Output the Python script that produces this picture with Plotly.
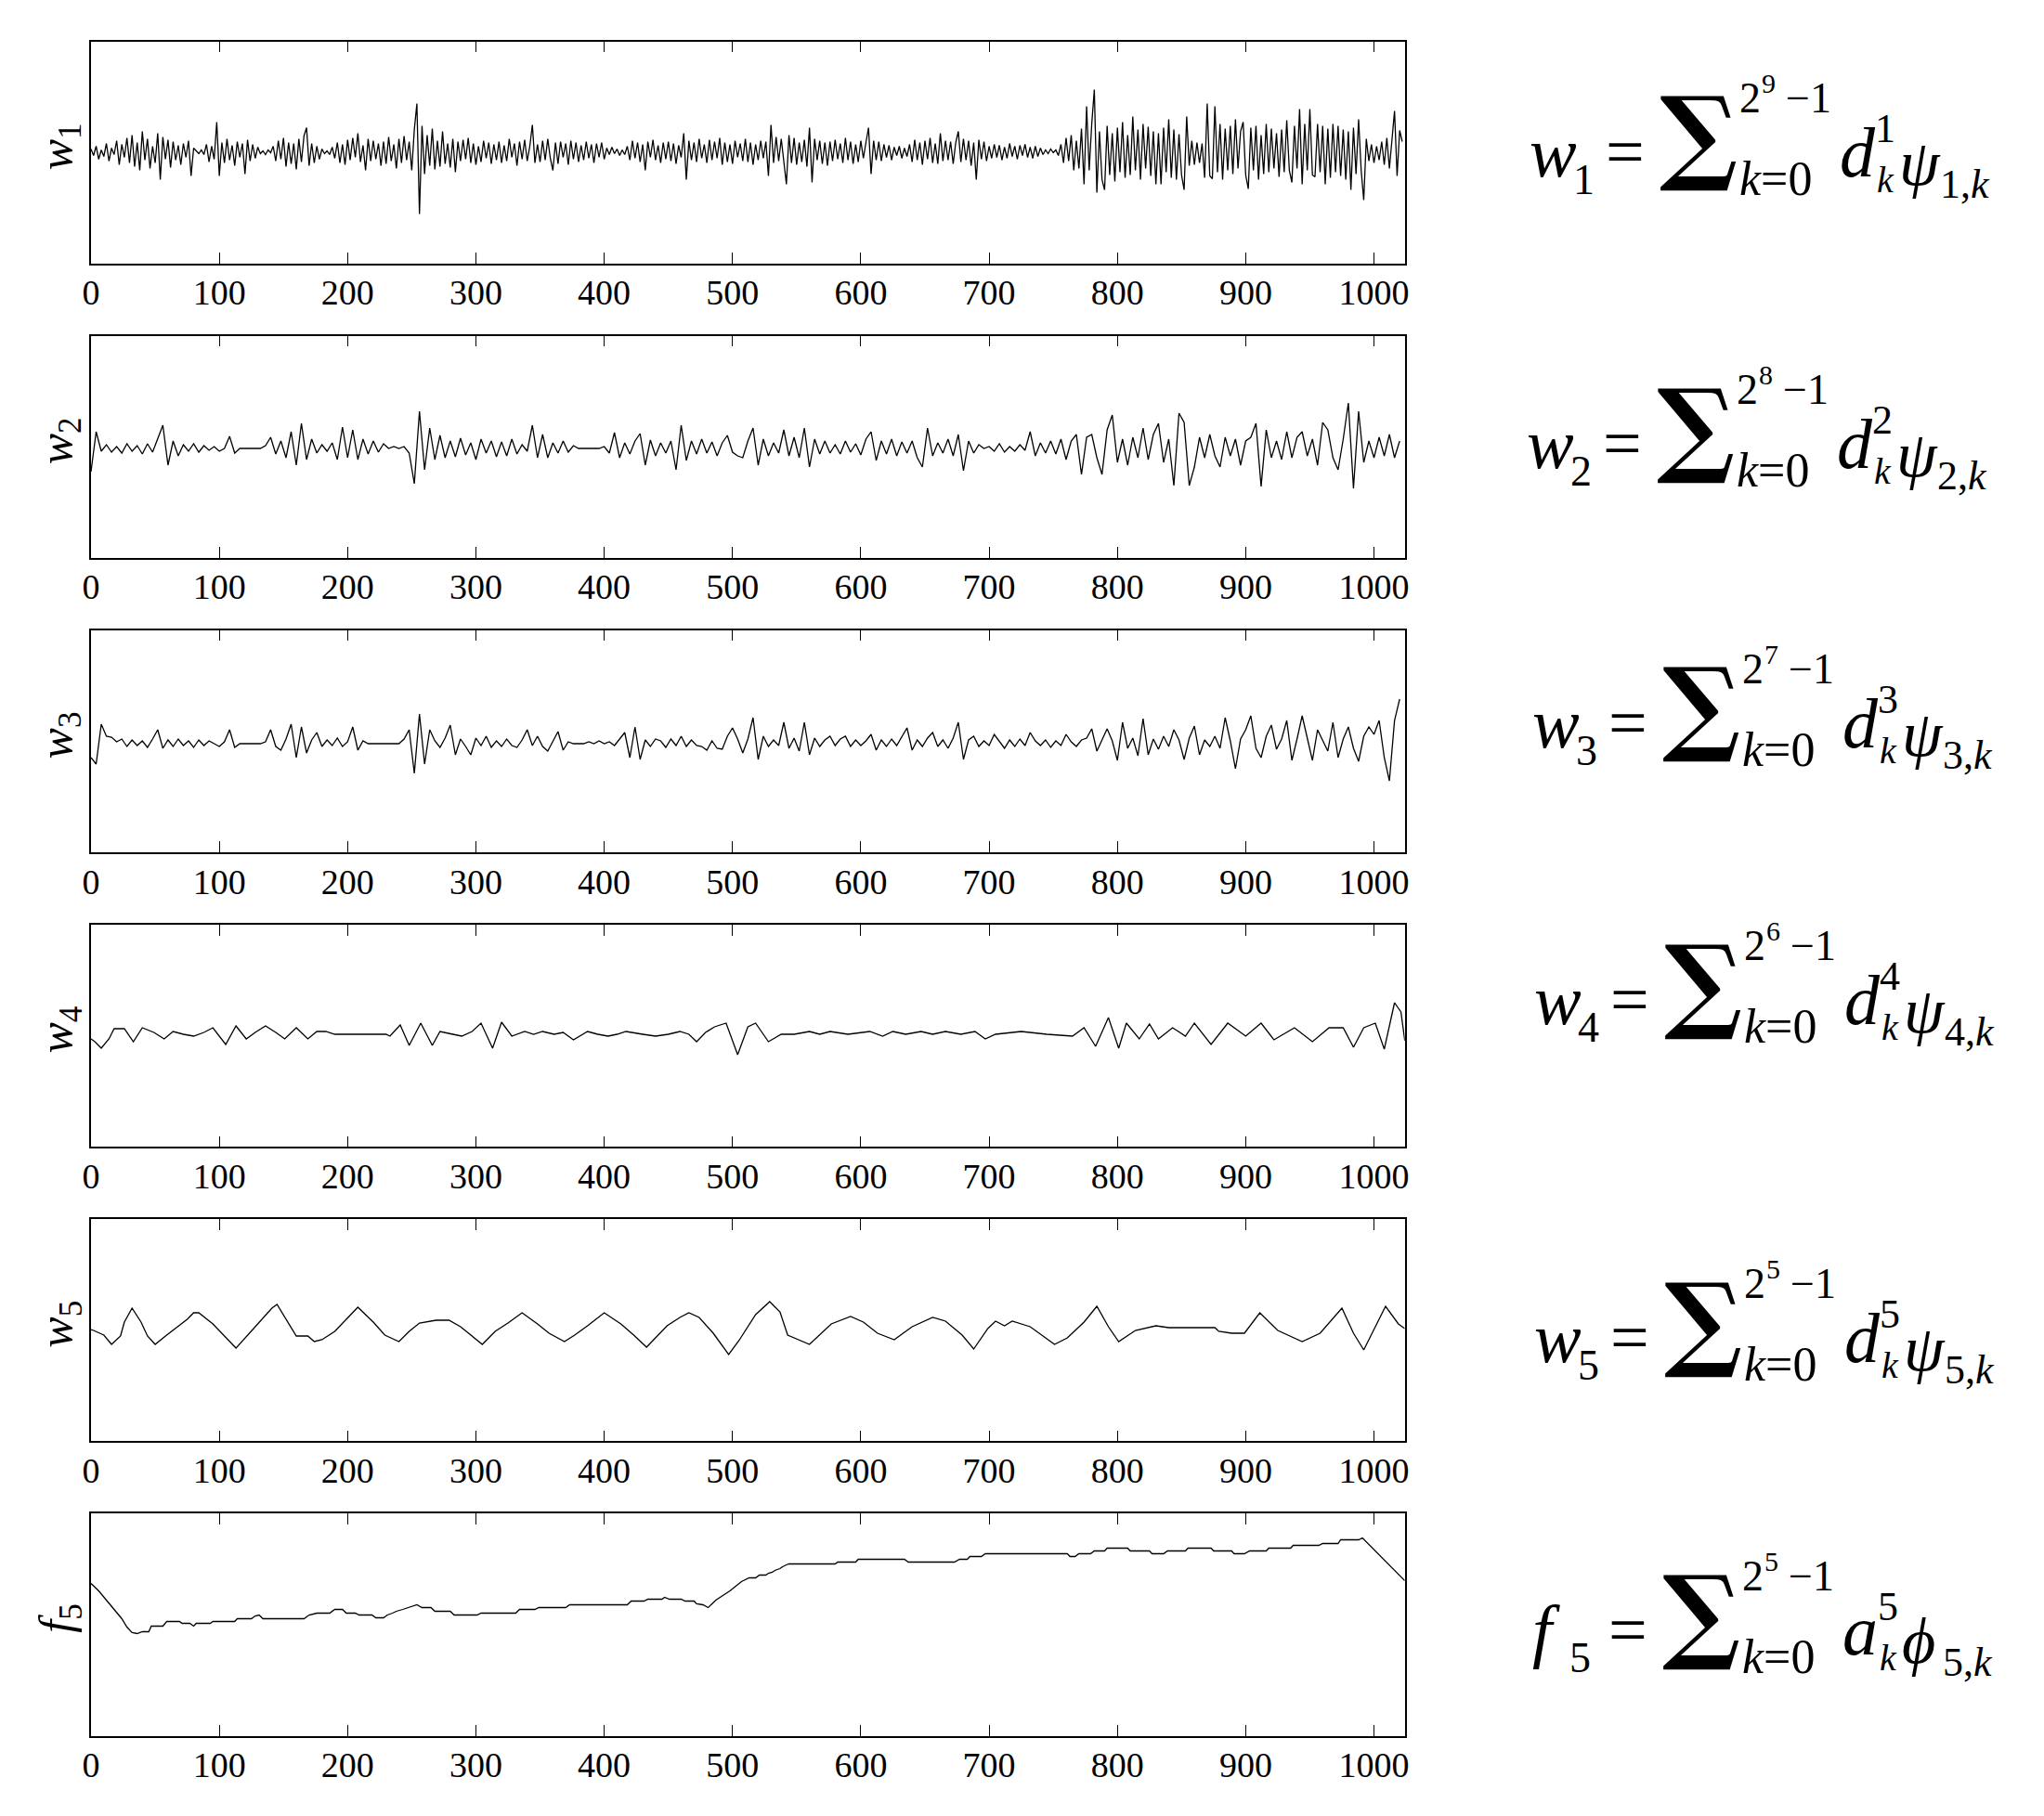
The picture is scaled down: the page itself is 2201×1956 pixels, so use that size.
import plotly.graph_objects as go

W, H = 2201, 1956
OFF = 8                      # page body margin of the written html
WF, HF = W - OFF, H - OFF    # figure size so that the page does not overflow
SERIF = "Liberation Serif"

# ---------------- data ----------------
x_ticks = [0, 100, 200, 300, 400, 500, 600, 700, 800, 900, 1000]
tick_text = [str(v) for v in x_ticks]

# w1 : 512 samples, every 2nd index
w1 = [3,-4,6,-8,2,-5,9,-10,4,-3,12,-14,8,-6,15,-12,
      18,-16,10,-20,22,-9,14,-18,6,-12,20,-30,16,-8,13,-17,
      11,-9,7,-14,9,-6,12,-26,4,1,-2,2,-3,8,-11,6,
      -8,32,-26,10,-12,14,-9,7,-15,11,-6,9,-24,13,-10,8,
      -7,5,-2,1,-3,2,-1,6,-10,12,-8,15,-16,10,-13,9,
      -19,14,-11,17,26,-15,9,-12,6,-8,3,-2,1,-3,5,-7,
      10,-12,8,-14,13,-9,15,-6,20,-11,7,-20,14,-10,12,-8,
      9,-15,11,-13,16,-10,8,-18,14,-12,17,-9,11,-20,24,52,
      -67,28,-24,18,-15,25,-19,12,-16,22,-13,9,-17,14,-22,11,
      -10,13,-8,15,-12,9,-14,6,-11,12,-7,10,-13,8,-9,11,
      -12,7,-10,14,-6,9,-15,11,-8,13,-10,6,29,-12,8,-11,
      12,-9,14,-7,-20,10,-13,11,-6,9,-14,12,-8,10,-11,7,
      -9,11,-7,8,-12,9,-6,10,-8,4,-3,5,-2,3,-4,2,
      -3,6,-9,12,-7,10,-11,8,-20,11,-6,13,-9,7,-12,10,
      -8,11,-10,9,-13,7,-6,20,-30,12,-9,10,-11,14,-7,8,
      -12,13,-9,11,-7,15,-14,10,-11,8,-13,12,-6,9,-10,14,
      -11,10,-14,8,-9,12,-7,11,-26,29,-12,16,-10,14,-8,-35,
      18,-12,15,-14,10,-11,13,-16,26,-33,14,-9,12,-13,10,-15,
      11,-10,13,-8,9,-12,15,-9,11,-13,8,-11,12,-7,10,26,
      -24,12,-9,11,-10,8,-6,7,-9,5,-4,6,-7,4,-5,8,
      -11,13,-9,10,-14,12,-8,15,-12,9,-13,20,-10,12,-9,11,
      -13,10,22,-11,14,-9,12,-15,10,-30,13,-8,11,-10,6,-7,
      8,-6,7,-9,5,-7,9,-5,6,-8,7,-4,8,-6,5,-7,
      6,-5,4,-3,2,-2,3,-1,2,-4,8,-12,15,-10,18,-20,
      12,-18,25,-35,49,-20,30,67,-44,22,-30,-41,28,-25,20,-32,
      26,-22,32,-28,18,-25,38,-20,24,-30,30,-18,27,-26,22,-35,
      20,-35,26,-22,35,-28,24,-30,19,-25,-41,38,-15,12,-14,10,
      -12,9,-28,52,-26,-29,49,-22,30,-30,25,-20,28,-24,35,-18,
      22,32,-25,-40,26,-20,28,-30,18,-24,30,-22,25,-18,20,-27,
      24,-22,34,-20,-33,28,-18,46,-35,30,-20,46,-25,-27,30,-22,
      28,-35,25,-28,30,-22,28,-26,24,-30,22,-41,26,-24,35,-20,
      -52,14,-10,8,-12,6,-9,11,-14,15,-18,12,44,-26,23,11]

# w2 : 256 samples, every 4th index
w2 = [-25,18,-3,4,-4,2,-5,5,-3,3,-6,5,-4,10,25,-18,
      8,-8,4,-3,5,-4,3,-2,2,-3,0,13,-5,0,0,0,
      0,0,3,12,-6,8,-10,18,-18,27,-12,10,-5,4,-3,6,
      -12,23,-10,20,-12,10,-6,8,-4,5,0,2,0,2,-5,-38,
      40,-23,22,-12,14,-10,8,-9,11,-7,6,-12,10,-5,8,-9,
      7,-8,10,-6,4,-3,25,-10,15,-10,6,-5,8,-4,3,0,
      0,0,0,0,2,-5,17,-10,6,-6,8,16,-18,9,-8,6,
      -5,8,-23,25,-13,8,-6,10,-5,7,-8,6,14,-4,-8,-10,
      8,22,-18,10,-8,6,-5,20,-8,12,-10,22,-20,10,-6,8,
      -5,4,-6,8,-4,5,-7,10,18,-13,8,-6,10,-8,7,-5,
      8,-10,-20,22,-8,6,-5,10,-8,15,-24,8,-5,4,0,2,
      -3,5,-4,2,-3,4,-2,18,-8,6,-5,8,-6,10,-12,8,
      15,-28,12,15,-10,-28,20,36,-15,10,-18,12,-10,22,-12,15,
      27,-15,10,-40,38,28,-40,-20,12,-10,15,-8,-20,12,-8,10,
      -18,8,12,27,-41,20,-10,8,-12,18,-10,12,18,-8,10,-18,
      28,20,-10,-23,10,49,-43,40,-15,8,-10,12,-8,15,-10,8]

# w3 : 256 samples, every 4th index
w3 = [-15,-22,21,8,7,2,5,-3,4,-2,3,-4,5,15,-5,4,
      -3,5,-2,3,-4,4,-2,3,0,-3,2,15,-4,0,0,0,
      0,0,2,15,-3,-7,5,21,-15,18,-10,4,12,-3,4,-2,
      6,-3,2,18,-7,3,0,0,0,0,0,0,0,5,15,-32,
      32,-22,15,3,-4,6,20,-12,5,-3,-12,6,-2,8,-4,3,
      -3,5,-2,-4,4,15,-2,8,-3,-8,3,13,-7,2,0,0,
      0,2,0,3,0,2,-2,5,12,-15,18,-17,4,-3,5,3,
      -4,5,-2,8,-3,4,-2,-3,-7,3,-5,-6,8,17,5,-10,
      5,28,-17,8,-3,4,-2,23,-5,6,-8,23,-12,6,-3,4,
      8,-2,5,8,-3,4,-2,3,10,-7,4,-3,5,-2,8,17,
      -7,4,-3,6,12,-3,4,-5,6,23,-17,4,8,-3,3,-2,
      10,3,-5,4,-3,5,-2,12,3,-2,4,-4,3,-2,10,2,
      -3,4,6,16,-8,4,16,3,-18,23,-5,6,-13,27,-12,5,
      -6,8,-3,15,4,-17,6,19,-12,4,-3,8,-5,28,3,-27,
      5,15,30,-5,-15,8,20,-6,5,25,-18,5,30,6,-18,15,
      3,-8,23,-15,5,18,-5,-19,8,18,10,25,-15,-40,25,48]

# w4 : vertices
w4_x = [0,3,8,14,18,26,33,40,49,57,64,72,80,88,95,105,113,121,128,136,
        144,151,160,169,176,183,190,230,233,241,248,257,266,272,282,289,297,304,313,320,
        328,338,345,352,361,368,376,387,395,403,410,417,430,440,450,459,466,472,479,486,
        495,504,512,518,528,538,548,560,568,576,590,607,617,625,635,647,656,666,678,689,
        697,705,725,745,765,774,783,793,801,807,817,825,832,843,853,860,873,886,900,912,
        922,938,952,965,976,984,992,1001,1008,1016,1021,1024]
w4_y = [-5,-8,-15,-5,6,6,-8,7,2,-5,3,0,-2,2,7,-11,9,-5,2,9,
        2,-5,7,-5,3,3,0,0,-2,10,-12,12,-12,3,0,-2,3,12,-15,13,
        -2,3,0,3,0,2,-6,3,0,-2,0,3,0,-2,0,3,0,-8,2,8,
        12,-22,8,12,-8,0,0,3,0,3,0,3,-2,3,0,3,0,3,0,3,
        -5,0,3,0,-2,7,-13,18,-15,12,-5,11,-5,7,-2,12,-11,12,-2,12,
        -6,7,-8,7,7,-14,7,12,-16,34,24,-7]

# w5 : vertices
w5_x = [0,2,10,16,23,26,32,39,44,50,59,68,75,80,84,95,105,113,128,141,
        145,151,160,169,174,180,190,208,220,229,240,248,256,269,279,288,305,315,325,336,
        348,357,369,377,387,400,413,423,433,449,459,466,474,485,497,505,518,529,537,543,
        560,577,592,602,613,626,640,656,666,679,688,699,705,712,718,732,751,761,774,784,
        793,801,814,830,840,876,879,889,899,911,925,944,958,975,984,992,1001,1009,1019,1024]
w5_y = [-1,-2,-7,-17,-8,7,22,7,-8,-17,-7,3,10,17,17,5,-10,-21,2,22,
        26,12,-8,-8,-14,-12,-3,23,7,-7,-14,-3,6,9,9,2,-17,-3,6,17,
        5,-5,-14,-7,3,17,5,-7,-20,3,12,17,12,-5,-28,-13,15,29,18,-7,
        -17,5,13,7,-5,-12,2,12,8,-7,-22,0,8,3,8,2,-17,-10,7,24,
        2,-14,-2,3,1,1,-3,-5,-5,17,-2,-14,-5,22,-5,-23,2,24,5,0]

# f5 : vertices
f5_x = [0,6,12,19,24,28,32,36,40,45,47,56,59,69,71,77,80,82,93,95,
        112,114,125,128,131,134,166,170,176,186,190,196,199,206,209,219,222,228,231,235,
        238,243,248,254,258,265,268,280,283,301,304,331,334,346,349,370,373,418,421,431,
        434,445,447,451,460,463,470,472,477,481,487,498,507,513,518,521,526,528,531,533,
        537,539,542,544,580,582,596,598,634,637,673,677,683,685,694,697,761,763,767,770,
        779,782,790,792,808,810,825,827,836,839,853,855,873,875,889,891,899,903,916,918,
        935,937,957,960,972,974,988,991,1024]
f5_y = [164,156,146,134,126,117,111,110,112,112,118,118,123,123,121,121,118,121,121,123,
        123,126,126,129,130,126,126,130,132,132,136,136,132,132,130,130,127,127,130,132,
        134,136,138,141,138,138,134,134,130,130,132,132,136,136,138,138,141,141,145,145,
        147,147,149,147,147,145,145,142,141,138,146,156,166,170,170,173,173,175,176,178,
        180,182,184,185,185,187,187,190,190,187,187,190,190,193,193,196,196,193,193,196,
        196,199,199,202,202,199,199,196,196,199,199,202,202,199,199,196,196,199,199,202,
        202,205,205,207,207,211,211,213,167]

# formula labels
lhs_names = ["w", "w", "w", "w", "w", "f"]
lhs_index = ["1", "2", "3", "4", "5", "5"]
upper_exp = ["9", "8", "7", "6", "5", "5"]
coef_name = ["d", "d", "d", "d", "d", "a"]
basis_name = ["ψ", "ψ", "ψ", "ψ", "ψ", "ϕ"]

# ---------------- layout geometry (screen pixels) ----------------
LEFT, RIGHT = 98, 1512.7
TOP0, PITCH, PANEL_H = 44.5, 317.1, 239.5
Y_RANGES = [(-120.5, 119), (-118.1, 121.4), (-117.2, 122.3),
            (-121.3, 118.2), (-121.4, 118.1), (0, 239.5)]
FORM_X0 = [1645, 1642, 1648, 1650, 1650, 1648]
FORM_YC = [163, 477, 778, 1076, 1440, 1755]
LHS_SUB_DX = [47, 47, 47, 47, 47, 40]


def px(x):
    return (x - OFF) / WF


def py(y):
    return 1 - (y - OFF) / HF


series = [
    (list(range(0, 1024, 2)), w1),
    (list(range(0, 1024, 4)), w2),
    (list(range(0, 1024, 4)), w3),
    (w4_x, w4_y),
    (w5_x, w5_y),
    (f5_x, f5_y),
]

fig = go.Figure()
layout = {}
for i, (xs, ys) in enumerate(series):
    n = i + 1
    top = TOP0 + i * PITCH
    bot = top + PANEL_H
    xa = "x" if n == 1 else f"x{n}"
    ya = "y" if n == 1 else f"y{n}"
    fig.add_trace(go.Scatter(x=xs, y=ys, mode="lines", xaxis=xa, yaxis=ya,
                             line=dict(color="black", width=1.3),
                             showlegend=False, hoverinfo="skip"))
    layout["xaxis" if n == 1 else f"xaxis{n}"] = dict(
        domain=[px(LEFT), px(RIGHT)], anchor=ya, range=[0, 1024],
        tickvals=x_ticks, ticktext=tick_text, ticks="inside", ticklen=12,
        tickwidth=1.3, tickcolor="black", showline=True, linecolor="black",
        linewidth=1.5, mirror="ticks", showgrid=False, zeroline=False,
        tickfont=dict(family=SERIF, size=38, color="black"),
        ticklabelstandoff=-3, automargin=False, fixedrange=True)
    layout["yaxis" if n == 1 else f"yaxis{n}"] = dict(
        domain=[py(bot), py(top)], anchor=xa, range=list(Y_RANGES[i]),
        showline=True, linecolor="black", linewidth=1.5, mirror=True,
        ticks="", showticklabels=False, showgrid=False, zeroline=False,
        automargin=False, fixedrange=True)

fig.update_layout(width=WF, height=HF, margin=dict(l=0, r=0, t=0, b=0),
                  paper_bgcolor="white", plot_bgcolor="white", **layout)


def piece(x_px, base_px, text, size, family=SERIF):
    yc = base_px - 0.245 * size
    fig.add_annotation(x=px(x_px), y=py(yc), xref="paper", yref="paper",
                       text=text, showarrow=False, xanchor="left", yanchor="middle",
                       font=dict(size=size, family=family, color="black"))


# y-axis labels
for i in range(6):
    top = TOP0 + i * PITCH
    yc = top + PANEL_H / 2 - 6
    fig.add_annotation(x=px(64), y=py(yc), xref="paper", yref="paper",
                       text=f"<i>{lhs_names[i]}</i><sub>{lhs_index[i]}</sub>",
                       textangle=-90, showarrow=False, xanchor="center", yanchor="middle",
                       font=dict(size=50, family=SERIF, color="black"))

# formulas
for i in range(6):
    X0, Yc = FORM_X0[i], FORM_YC[i]
    piece(X0, Yc + 20, f"<i>{lhs_names[i]}</i>", 76)
    piece(X0 + LHS_SUB_DX[i], Yc + 42, lhs_index[i], 46)
    piece(X0 + 82, Yc + 18, "=", 74)
    fig.add_annotation(x=px(X0 + 140), y=py(Yc - 18), xref="paper", yref="paper",
                       text="<b>∑</b>", showarrow=False, xanchor="left", yanchor="middle",
                       font=dict(size=112, family="DejaVu Serif", color="black"))
    piece(X0 + 226, Yc - 46, "2", 46)
    piece(X0 + 250, Yc - 66, upper_exp[i], 30)
    piece(X0 + 276, Yc - 46, "−1", 46)
    piece(X0 + 226, Yc + 42, "<i>k</i>=0", 52)
    piece(X0 + 334, Yc + 20, f"<i>{coef_name[i]}</i>", 76)
    piece(X0 + 372, Yc - 14, lhs_index[i], 44)
    piece(X0 + 374, Yc + 40, "<i>k</i>", 40)
    piece(X0 + 398, Yc + 30, f"<i>{basis_name[i]}</i>", 70)
    piece(X0 + 442, Yc + 46, f"{lhs_index[i]},<i>k</i>", 44)

fig.write_html("out.html")
